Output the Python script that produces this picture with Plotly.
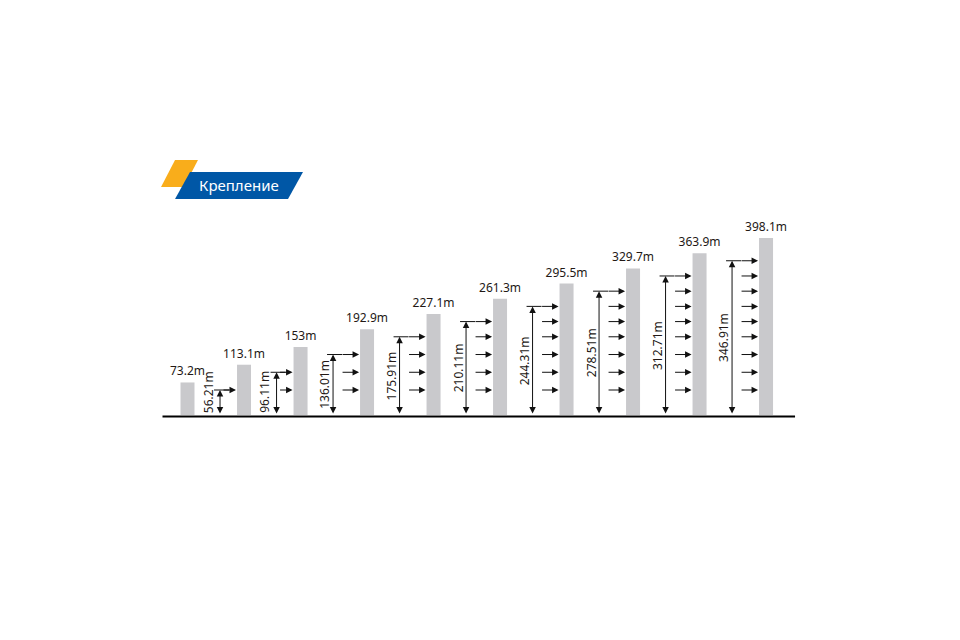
import plotly.graph_objects as go

# tower heights (m) and dimension heights (m) for towers 2..10
tower_heights = [73.2, 113.1, 153, 192.9, 227.1, 261.3, 295.5, 329.7, 363.9, 398.1]
dim_heights = [56.21, 96.11, 136.01, 175.91, 210.11, 244.31, 278.51, 312.71, 346.91]
tower_labels = ["73.2m", "113.1m", "153m", "192.9m", "227.1m", "261.3m",
                "295.5m", "329.7m", "363.9m", "398.1m"]
dim_labels = ["56.21m", "96.11m", "136.01m", "175.91m", "210.11m", "244.31m",
              "278.51m", "312.71m", "346.91m"]
title = "Крепление"

W, H = 960, 640
PAD = 8          # default body margin of the html page
PX_X = 66.5      # px per x unit
PX_Y = 0.4446    # px per metre
X0_PX = 187.5 - PAD    # first tower centre
BASE_PX = 415 - PAD    # ground line

BAR_W = 14 / PX_X
TEXT = "#231815"
FONT = "Noto Sans, Open Sans, sans-serif"

# tower positions: towers with a short dimension sit a bit closer
bar_x = [0.0]
for d in dim_heights:
    bar_x.append(bar_x[-1] + (0.85 if d < 100 else 1.0))


def px_x(p):
    return p / PX_X


def px_y(p):
    return p / PX_Y


fig = go.Figure()
fig.add_trace(go.Bar(
    x=bar_x, y=tower_heights, width=BAR_W,
    marker={'color': '#c9c9cc', 'line': {'width': 0}},
    text=tower_labels, textposition='outside', cliponaxis=False,
    constraintext='none',
    textfont={'family': FONT, 'size': 12, 'color': TEXT},
    hoverinfo='none'
))

annotations = []
shapes = []
arrow_style = dict(showarrow=True, text='', arrowhead=2, arrowsize=1.3,
                   arrowwidth=1, arrowcolor='#111', standoff=0,
                   xref='x', yref='y', axref='x', ayref='y')

for i, (d, lab) in enumerate(zip(dim_heights, dim_labels)):
    k = i + 1
    bar_left = bar_x[k] - BAR_W / 2
    short = d < 100
    off = px_x(17 if short else 27)
    line_x = bar_left - off

    # vertical dimension line, arrows both ends
    annotations.append(dict(arrow_style, x=line_x, y=d, ax=line_x, ay=0,
                            arrowside='end+start', startarrowhead=2,
                            startstandoff=0))
    # top tick
    shapes.append(dict(type='line', xref='x', yref='y',
                       x0=line_x - px_x(6), x1=line_x + px_x(9), y0=d, y1=d,
                       line={'color': '#111', 'width': 1}))
    # dimension label, kept clear of the ground line
    label_len = 6.6 * len(lab)
    annotations.append(dict(x=line_x - px_x(12 if short else 8),
                            y=max(d / 2, px_y(label_len / 2 + 3)),
                            xref='x', yref='y',
                            text=lab, showarrow=False, textangle=-90,
                            xanchor='center', yanchor='middle',
                            font={'family': FONT, 'size': 12, 'color': TEXT}))
    # load arrows at every dimension level up to this one
    start = bar_left - px_x(15 if short else 19)
    for lvl in dim_heights[:k]:
        annotations.append(dict(arrow_style, x=bar_left - px_x(1), y=lvl,
                                ax=start, ay=lvl))

# ground line
shapes.append(dict(type='line', xref='x', yref='y',
                   x0=bar_x[0] - px_x(25), x1=bar_x[-1] + px_x(29),
                   y0=-px_y(1.5), y1=-px_y(1.5),
                   line={'color': '#000', 'width': 2}))


def paper_path(pts):
    return 'M ' + ' L '.join(
        f'{(x - PAD) / W:.4f},{1 - (y - PAD) / H:.4f}' for x, y in pts) + ' Z'


# title badge
shapes.append(dict(type='path', xref='paper', yref='paper',
                   path=paper_path([(175, 160), (198, 160), (184, 187), (161, 187)]),
                   fillcolor='#f9ad1b', line={'width': 0}))
shapes.append(dict(type='path', xref='paper', yref='paper',
                   path=paper_path([(190, 172), (303, 172), (288, 199), (175, 199)]),
                   fillcolor='#0057a6', line={'width': 0}))
annotations.append(dict(x=(239 - PAD) / W, y=1 - (185 - PAD) / H,
                        xref='paper', yref='paper',
                        text=title, showarrow=False, xanchor='center',
                        yanchor='middle',
                        font={'family': FONT, 'size': 15, 'color': 'white'}))

x0 = -X0_PX / PX_X
y0 = -(H - BASE_PX) / PX_Y
fig.update_layout(
    width=W, height=H,
    margin={'l': 0, 'r': 0, 't': 0, 'b': 0},
    paper_bgcolor='white', plot_bgcolor='white',
    showlegend=False,
    shapes=shapes, annotations=annotations,
    xaxis={'range': [x0, x0 + W / PX_X], 'visible': False, 'fixedrange': True},
    yaxis={'range': [y0, y0 + H / PX_Y], 'visible': False, 'fixedrange': True},
)

fig.write_html("out.html")
